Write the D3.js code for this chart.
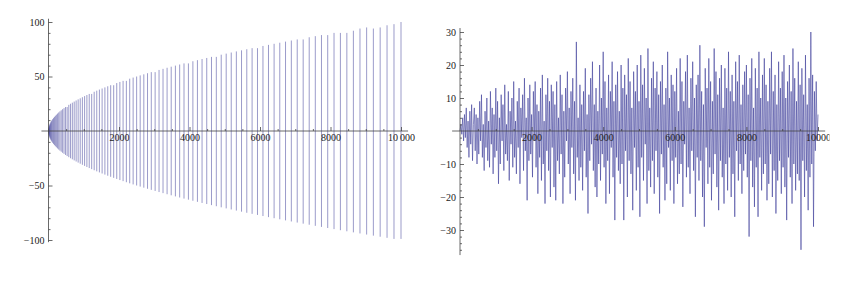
<!DOCTYPE html>
<meta charset="utf-8">
<style>
body { margin: 0; background: #fff; }
.ax text { font-family: "Liberation Serif", "DejaVu Serif", serif; font-size: 10px; fill: #222; }
.ax line, .ax path { stroke: #444; stroke-width: 0.8; }
</style>
<script src="https://cdn.jsdelivr.net/npm/d3@7"></script>
<body>
<script>
// left panel: vertical strokes, one per position
const leftX = [1,4,9,16,25,36,49,64,81,100,121,144,169,196,225,256,289,324,361,400,
  441,484,529,576,625,676,729,784,841,900,961,1024,1089,1156,1225,1296,1369,1444,1521,1600,
  1681,1764,1849,1936,2025,2116,2209,2304,2401,2500,2601,2704,2809,2916,3025,3136,3249,3364,3481,3600,
  3721,3844,3969,4096,4225,4356,4489,4624,4761,4900,5041,5184,5329,5476,5625,5776,5929,6084,6241,6400,
  6561,6724,6889,7056,7225,7396,7569,7744,7921,8100,8281,8464,8649,8836,9025,9216,9409,9604,9801,10000];
const leftTop = [1,2,3,4,5,6,7,8,9,10, 11,12,13,14,15,16,17,18,19,20,
  21,22,22,24,25,26,27,28,29,30, 31,32,33,34,34,36,37,38,39,40,
  41,42,42,44,45,46,46,48,49,50, 51,52,53,54,54,56,57,58,59,60,
  61,62,62,64,65,66,67,68,68,70, 71,72,73,74,75,76,76,78,79,80,
  81,82,83,84,84,86,87,88,88,90, 90,90,92,94,95,94,95,97,98,100];
const leftBottom = [-1,-2,-3,-4,-5,-6,-7,-8,-9,-10, -11,-12,-13,-14,-15,-16,-17,-18,-19,-20,
  -21,-22,-23,-24,-25,-26,-27,-28,-29,-30, -31,-32,-33,-34,-35,-36,-37,-38,-39,-40,
  -41,-42,-43,-44,-45,-46,-47,-48,-49,-50, -51,-52,-53,-54,-55,-56,-57,-58,-59,-60,
  -61,-62,-63,-64,-65,-66,-67,-68,-69,-70, -71,-72,-73,-74,-75,-76,-77,-78,-79,-80,
  -81,-82,-83,-84,-85,-86,-87,-88,-89,-90, -91,-92,-93,-94,-95,-96,-97,-98,-99,-99];
const leftXTicks = [2000, 4000, 6000, 8000, 10000];
const leftYTicks = [-100, -50, 50, 100];

// right panel: one value every 25 steps, 0 .. 10000
const rightStep = 25;
const rightY = [
  0,2,-1,4,-3,5,-2,7,-5,3,-8,6,-4,8,-9,2,7,-6,5,-10,
  4,-7,9,-3,11,-8,2,-12,6,-5,10,-9,3,-11,12,-4,7,-13,5,-8,
  13,-6,9,-16,4,-10,11,-3,8,-12,14,-7,2,-9,12,-15,6,-4,10,-11,
  15,-8,3,-13,9,-5,13,-16,7,-2,11,-12,16,-6,4,-21,10,-9,14,-7,
  5,-14,12,-3,15,-11,8,-19,6,-8,13,-15,17,-10,3,-22,11,-6,16,-12,
  9,-20,14,-5,12,-17,8,-21,15,-9,4,-13,17,-7,11,-22,6,-14,13,-3,
  18,-10,7,-19,12,-5,16,-13,9,-21,27,-8,4,-15,14,-11,8,-18,12,-6,
  19,-14,5,-25,11,-9,16,-4,21,-12,8,-17,13,-20,6,-10,20,-15,10,-7,
  24,-11,15,-22,7,-9,17,-19,12,-5,21,-14,9,-27,14,-8,18,-12,6,-16,
  20,-10,13,-27,17,-6,11,-20,22,-9,15,-13,7,-24,18,-5,12,-18,20,-11,
  9,-26,23,-8,14,-15,19,-4,10,-22,25,-12,7,-17,16,-9,21,-19,13,-6,
  18,-14,11,-25,15,-7,20,-11,8,-21,13,-16,24,-5,10,-18,17,-9,14,-22,
  12,-8,19,-16,6,-13,22,-10,15,-23,9,-4,18,-14,23,-11,7,-19,16,-6,
  21,-12,10,-26,14,-8,17,-15,26,-9,12,-20,8,-29,19,-5,13,-16,22,-11,
  15,-21,9,-13,25,-7,18,-17,11,-24,16,-9,20,-14,7,-22,19,-10,13,-18,
  24,-8,12,-20,17,-13,9,-26,21,-6,15,-15,23,-10,8,-19,14,-12,18,-7,
  20,-14,11,-32,16,-9,22,-17,7,-23,19,-11,13,-26,24,-8,10,-18,17,-13,
  22,-10,14,-21,9,-16,19,-7,24,-20,12,-12,17,-25,8,-15,21,-9,13,-19,
  18,-11,23,-17,10,-27,15,-8,20,-14,12,-22,25,-10,16,-18,9,-13,21,-15,
  14,-36,19,-9,11,-20,23,-12,8,-24,16,-14,30,-10,17,-29,12,-6,15,-3,
  5];
const rightXTicks = [2000, 4000, 6000, 8000, 10000];
const rightYTicks = [-30, -20, -10, 10, 20, 30];

const lineColor = '#3d3d99';
const minus = d => d < 0 ? '\u2212' + (-d) : String(d);

const svg = d3.select('body')
  .append('svg')
    .attr('width', 865)
    .attr('height', 282);

// ---- left panel
const xL = d3.scaleLinear().domain([0, 10000]).range([48.5, 401]);
const yL = d3.scaleLinear().domain([-100, 100]).range([240, 22]);

const gL = svg.append('g');
gL.selectAll('line.stroke')
  .data(leftX)
  .enter()
  .append('line')
    .attr('class', 'stroke')
    .attr('x1', d => xL(d))
    .attr('x2', d => xL(d))
    .attr('y1', (d, i) => yL(leftTop[i]))
    .attr('y2', (d, i) => yL(leftBottom[i]))
    .attr('stroke', lineColor)
    .attr('stroke-opacity', 0.65)
    .attr('stroke-width', 0.8);

function drawAxes(g, x, y, opts) {
  // axis lines a little past the data range
  g.append('line')
    .attr('x1', x(opts.xMin)).attr('x2', x(opts.xMax))
    .attr('y1', y(0)).attr('y2', y(0))
    .attr('stroke', '#444').attr('stroke-width', 0.8);
  g.append('line')
    .attr('x1', x(0)).attr('x2', x(0))
    .attr('y1', y(opts.yMin)).attr('y2', y(opts.yMax))
    .attr('stroke', '#444').attr('stroke-width', 0.8);

  g.append('g').attr('class', 'ax')
    .attr('transform', `translate(0, ${y(0)})`)
    .call(d3.axisBottom(x).tickValues(opts.xTicks).tickSize(-4).tickPadding(3)
      .tickFormat(opts.xFormat))
    .select('.domain').remove();

  g.append('g').attr('class', 'ax')
    .attr('transform', `translate(0, ${y(0)})`)
    .call(d3.axisBottom(x).tickValues(opts.xMinor).tickSize(-2).tickFormat(''))
    .select('.domain').remove();

  g.append('g').attr('class', 'ax')
    .attr('transform', `translate(${x(0)}, 0)`)
    .call(d3.axisLeft(y).tickValues(opts.yTicks).tickSize(-4).tickPadding(4)
      .tickFormat(minus))
    .select('.domain').remove();

  g.append('g').attr('class', 'ax')
    .attr('transform', `translate(${x(0)}, 0)`)
    .call(d3.axisLeft(y).tickValues(opts.yMinor).tickSize(-2).tickFormat(''))
    .select('.domain').remove();

  g.selectAll('.ax').attr('font-family', '"Liberation Serif", serif');
}

drawAxes(gL, xL, yL, {
  xMin: -200, xMax: 10200, yMin: -102, yMax: 103,
  xTicks: leftXTicks,
  xMinor: d3.range(500, 10001, 500).filter(v => v % 2000 !== 0),
  xFormat: d => d === 10000 ? '10\u2009000' : String(d),
  yTicks: leftYTicks,
  yMinor: d3.range(-100, 101, 10).filter(v => v % 50 !== 0)
});

// ---- right panel
const xR = d3.scaleLinear().domain([0, 10000]).range([460, 818]);
const yR = d3.scaleLinear().domain([-30, 30]).range([230, 32]);

svg.append('defs').append('clipPath').attr('id', 'cutR')
  .append('rect').attr('x', -40).attr('y', -5).attr('width', 40 + 829 - 818).attr('height', 30);

const gR = svg.append('g');
gR.append('path')
  .datum(rightY)
  .attr('fill', 'none')
  .attr('stroke', lineColor)
  .attr('stroke-opacity', 0.85)
  .attr('stroke-width', 0.7)
  .attr('stroke-linejoin', 'round')
  .attr('d', d3.line().x((d, i) => xR(i * rightStep)).y(d => yR(d)));

drawAxes(gR, xR, yR, {
  xMin: -220, xMax: 10200, yMin: -37.6, yMax: 31.2,
  xTicks: rightXTicks,
  xMinor: d3.range(500, 10001, 500).filter(v => v % 2000 !== 0),
  xFormat: d => String(d),
  yTicks: rightYTicks,
  yMinor: d3.range(-36, 31, 2).filter(v => v % 10 !== 0)
});
// the last label is cut at the image edge of the original
gR.selectAll('.ax text').filter(d => d === 10000).attr('clip-path', 'url(#cutR)');
</script>
</body>
